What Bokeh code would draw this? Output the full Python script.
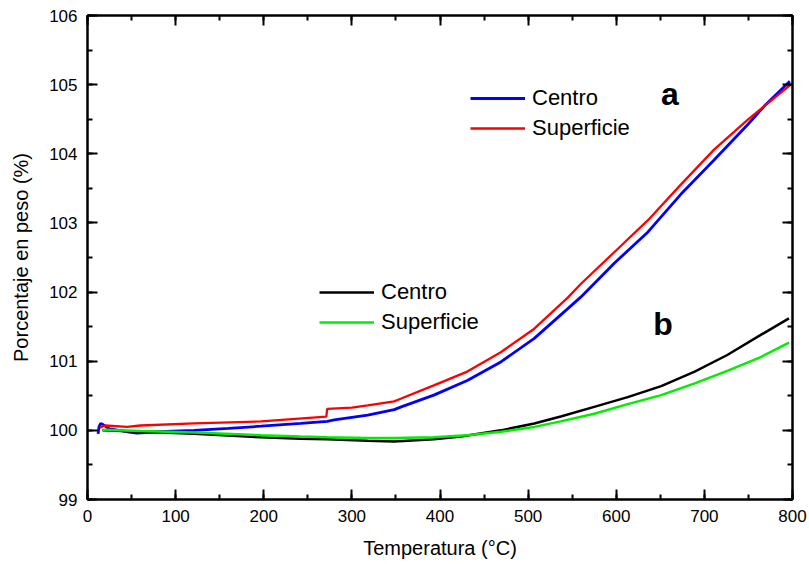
from bokeh.plotting import figure
from bokeh.models import (Range1d, LinearAxis, SingleIntervalTicker, Legend, LegendItem, Label,
                          CustomJSTickFormatter)
from bokeh.embed import file_html
from bokeh.resources import INLINE

# ---- data ----
t_sup_a = [14, 20, 45, 60, 121, 197, 271, 272, 300, 318, 348, 356, 393, 431, 469, 507, 545, 560,
           598, 636, 673, 711, 749, 768, 798]
v_sup_a = [100.04, 100.07, 100.05, 100.07, 100.10, 100.13, 100.20, 100.31, 100.33, 100.36, 100.42,
           100.46, 100.65, 100.85, 101.13, 101.47, 101.92, 102.12, 102.58, 103.04, 103.55, 104.06,
           104.49, 104.69, 105.00]

t_cen_a = [12, 13, 15, 18, 25, 45, 56, 80, 121, 160, 197, 242, 272, 280, 318, 348, 356, 393, 431,
           469, 507, 545, 560, 598, 636, 673, 711, 749, 768, 797]
v_cen_a = [99.95, 100.05, 100.10, 100.08, 100.02, 99.98, 99.96, 99.98, 100.00, 100.03, 100.06,
           100.10, 100.13, 100.15, 100.22, 100.30, 100.34, 100.51, 100.72, 100.99, 101.33, 101.76,
           101.93, 102.42, 102.87, 103.41, 103.91, 104.42, 104.69, 105.05]

t_cen_b = [17, 60, 121, 197, 242, 272, 318, 348, 393, 424, 469, 507, 537, 575, 613, 651, 689, 726,
           764, 796]
v_cen_b = [100.00, 99.98, 99.95, 99.90, 99.88, 99.87, 99.85, 99.84, 99.87, 99.91, 100.00, 100.10,
           100.20, 100.34, 100.48, 100.64, 100.85, 101.09, 101.38, 101.62]

t_sup_b = [17, 60, 121, 197, 242, 272, 318, 348, 393, 431, 469, 507, 537, 575, 613, 651, 689, 726,
           764, 796]
v_sup_b = [100.01, 99.99, 99.97, 99.93, 99.91, 99.90, 99.89, 99.89, 99.90, 99.93, 99.98, 100.05,
           100.13, 100.24, 100.38, 100.51, 100.68, 100.86, 101.06, 101.27]

x_label = "Temperatura (°C)"
y_label = "Porcentaje en peso (%)"
names = ["Centro", "Superficie"]
tags = ["a", "b"]

FONT = "Liberation Sans"

p = figure(width=809, height=564, output_backend="svg", toolbar_location=None,
           x_range=Range1d(0, 800), y_range=Range1d(99, 106),
           min_border_left=87, min_border_right=17, min_border_top=15, min_border_bottom=65,
           x_axis_label=x_label, y_axis_label=y_label)
p.grid.visible = False
p.outline_line_color = "black"
p.outline_line_width = 2
p.background_fill_color = "white"
p.border_fill_color = "white"

def style_axis(ax, ticker, show_labels=True):
    ax.ticker = ticker
    ax.axis_line_color = "black"
    ax.axis_line_width = 2
    ax.major_tick_line_color = "black"
    ax.major_tick_line_width = 2
    ax.minor_tick_line_color = "black"
    ax.minor_tick_line_width = 2
    ax.major_tick_in = 10
    ax.major_tick_out = 0
    ax.minor_tick_in = 5
    ax.minor_tick_out = 0
    ax.major_label_text_font = FONT
    ax.major_label_text_font_size = "17px"
    ax.major_label_text_color = "black"
    ax.major_label_standoff = 10
    ax.axis_label_text_font = FONT
    ax.axis_label_text_font_size = "20px"
    ax.axis_label_text_font_style = "normal"
    ax.axis_label_text_color = "black"
    if not show_labels:
        ax.formatter = CustomJSTickFormatter(code="return ''")
        ax.major_label_standoff = 0

style_axis(p.xaxis[0], SingleIntervalTicker(interval=100, num_minor_ticks=2))
style_axis(p.yaxis[0], SingleIntervalTicker(interval=1, num_minor_ticks=2))
p.xaxis[0].axis_label_standoff = 12
p.yaxis[0].axis_label_standoff = 14

top = LinearAxis()
style_axis(top, SingleIntervalTicker(interval=100, num_minor_ticks=2), show_labels=False)
p.add_layout(top, "above")
right = LinearAxis()
style_axis(right, SingleIntervalTicker(interval=1, num_minor_ticks=2), show_labels=False)
p.add_layout(right, "right")

r_cen_a = p.line(t_cen_a, v_cen_a, line_color="#0000ff", line_width=2.8)
r_sup_a = p.line(t_sup_a, v_sup_a, line_color="#ff0000", line_width=2.3)
r_cen_b = p.line(t_cen_b, v_cen_b, line_color="black", line_width=2.5)
r_sup_b = p.line(t_sup_b, v_sup_b, line_color="#00ee00", line_width=2.5)

def make_legend(items, loc):
    lg = Legend(items=items, location=loc, orientation="vertical",
                background_fill_alpha=0, border_line_color=None,
                label_text_font=FONT, label_text_font_size="22px", label_text_color="black",
                glyph_width=55, glyph_height=24, label_height=24, label_standoff=7,
                spacing=4, padding=0, margin=0)
    return lg

leg1 = make_legend([LegendItem(label=names[0], renderers=[r_cen_a]),
                    LegendItem(label=names[1], renderers=[r_sup_a])], (383, 358))
leg2 = make_legend([LegendItem(label=names[0], renderers=[r_cen_b]),
                    LegendItem(label=names[1], renderers=[r_sup_b])], (232, 164))
p.add_layout(leg1, "center")
p.add_layout(leg2, "center")

for txt, xx, yy in [(tags[0], 661, 104.87), (tags[1], 653, 101.54)]:
    p.add_layout(Label(x=xx, y=yy, text=txt, text_font=FONT, text_font_size="32px",
                       text_font_style="bold", text_align="center",
                       text_baseline="alphabetic", text_color="black"))

open("out.html", "w").write(file_html(p, INLINE))
